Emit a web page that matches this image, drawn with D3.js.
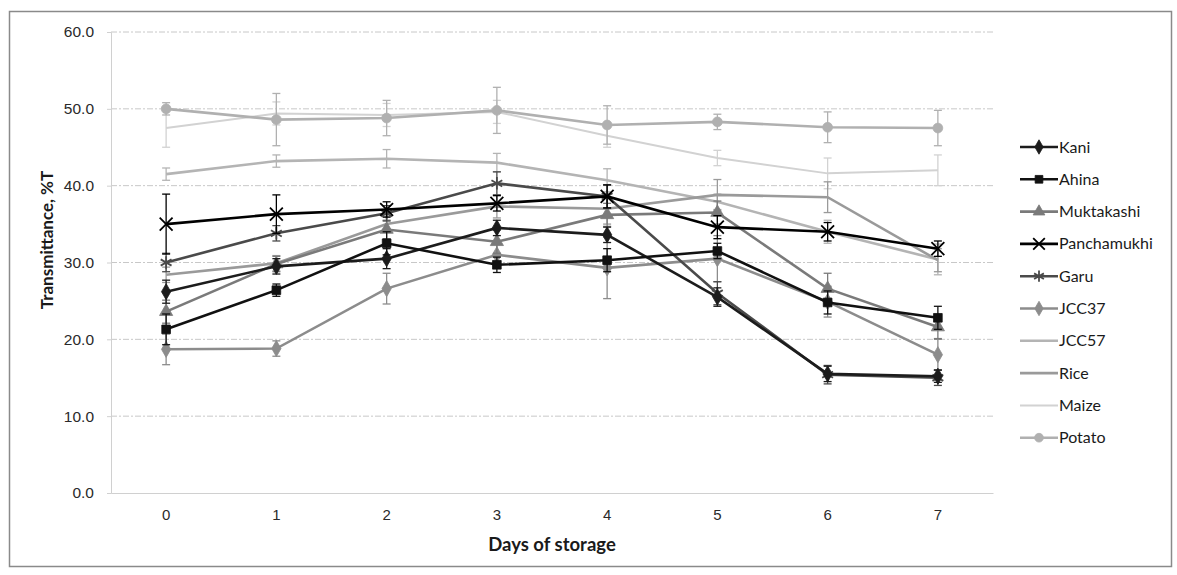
<!DOCTYPE html>
<html>
<head>
<meta charset="utf-8">
<script src="https://cdn.jsdelivr.net/npm/d3@7"></script>
<style>
  html, body { margin: 0; padding: 0; background: #fff; }
  svg { display: block; font-family: Lato, "Liberation Sans", sans-serif; }
</style>
</head>
<body>
<script>
// 日数（横軸のカテゴリ）
const days = ["0", "1", "2", "3", "4", "5", "6", "7"];
const yTicks = [0, 10, 20, 30, 40, 50, 60];

// 系列名
const seriesNames = ["Kani", "Ahina", "Muktakashi", "Panchamukhi", "Garu",
  "JCC37", "JCC57", "Rice", "Maize", "Potato"];

// 透過率 %T
const kani        = [26.2, 29.5, 30.5, 34.5, 33.6, 25.5, 15.5, 15.2];
const ahina       = [21.3, 26.4, 32.5, 29.7, 30.3, 31.5, 24.8, 22.8];
const muktakashi  = [23.6, 29.8, 34.3, 32.7, 36.2, 36.5, 26.6, 21.6];
const panchamukhi = [35.0, 36.3, 36.9, 37.7, 38.6, 34.6, 34.0, 31.8];
const garu        = [30.0, 33.8, 36.4, 40.3, 38.6, 26.0, 15.4, 15.0];
const jcc37       = [18.7, 18.8, 26.6, 31.0, 29.3, 30.5, 24.9, 18.0];
const jcc57       = [41.5, 43.2, 43.5, 43.0, 40.7, 37.9, 34.0, 30.4];
const rice        = [28.4, 29.9, 35.0, 37.3, 37.0, 38.8, 38.5, 30.3];
const maize       = [47.5, 49.4, 49.2, 49.6, 46.5, 43.6, 41.6, 42.0];
const potato      = [50.0, 48.6, 48.8, 49.8, 47.9, 48.3, 47.6, 47.5];

// 誤差（±）
const kaniErr        = [1.5, 1.0, 1.3, 1.0, 1.0, 1.2, 1.0, 0.8];
const ahinaErr       = [2.0, 0.8, 1.5, 1.0, 1.5, 1.0, 1.5, 1.5];
const muktakashiErr  = [1.5, 1.0, 1.2, 1.5, 1.5, 1.5, 2.0, 1.5];
const panchamukhiErr = [3.9, 2.5, 1.0, 1.0, 1.5, 1.5, 1.2, 1.0];
const garuErr        = [1.2, 1.0, 1.0, 1.5, 1.5, 1.5, 1.2, 1.0];
const jcc37Err       = [2.0, 1.0, 2.0, 1.5, 4.0, 3.0, 2.0, 2.0];
const jcc57Err       = [0.8, 0.8, 1.2, 1.2, 1.5, 1.0, 1.5, 2.0];
const riceErr        = [1.0, 1.0, 1.0, 1.5, 2.0, 2.0, 2.0, 1.5];
const maizeErr       = [2.5, 1.5, 1.5, 1.5, 1.5, 1.0, 2.0, 2.0];
const potatoErr      = [0.8, 3.4, 2.3, 3.0, 2.5, 1.0, 2.0, 2.3];

const values = [kani, ahina, muktakashi, panchamukhi, garu, jcc37, jcc57, rice, maize, potato];
const errors = [kaniErr, ahinaErr, muktakashiErr, panchamukhiErr, garuErr,
  jcc37Err, jcc57Err, riceErr, maizeErr, potatoErr];

// 見た目（色・マーカー）
const colors  = ["#1c1c1c", "#111111", "#7a7a7a", "#000000", "#4a4a4a",
  "#8c8c8c", "#b4b4b4", "#9a9a9a", "#d2d2d2", "#b0b0b0"];
const markers = ["diamond", "square", "triangle", "times", "asterisk",
  "diamond", "none", "none", "none", "circle"];

const width = 1177, height = 575;
const plot = { left: 111, right: 993, top: 32, bottom: 493 };

const svg = d3.select("body").append("svg")
  .attr("width", width)
  .attr("height", height);

// 外枠
svg.append("rect")
  .attr("x", 9.5).attr("y", 11.5)
  .attr("width", 1162).attr("height", 555)
  .attr("fill", "none").attr("stroke", "#8a8a8a").attr("stroke-width", 1.5);

const x = d3.scaleBand().domain(days).range([plot.left, plot.right]).padding(0);
const cx = d => x(d) + x.bandwidth() / 2;
const y = d3.scaleLinear().domain([0, 60]).range([plot.bottom, plot.top]);

// 横グリッド線
svg.append("g")
  .selectAll("line")
  .data(yTicks.filter(t => t > 0))
  .join("line")
  .attr("x1", plot.left).attr("x2", plot.right)
  .attr("y1", d => y(d)).attr("y2", d => y(d))
  .attr("stroke", "#c8c8c8").attr("stroke-width", 1)
  .attr("stroke-dasharray", "6,2,2,2");

// Y軸
const yAxis = svg.append("g")
  .attr("transform", `translate(${plot.left},0)`)
  .call(d3.axisLeft(y).tickValues(yTicks).tickFormat(d3.format(".1f")).tickSize(4).tickPadding(13));
yAxis.select(".domain").attr("stroke", "#d0d0d0");
yAxis.selectAll(".tick line").attr("stroke", "#d0d0d0");
yAxis.selectAll("text").attr("fill", "#2a2a2a").style("font-size", "15.5px");

// X軸
const xAxis = svg.append("g")
  .attr("transform", `translate(0,${plot.bottom})`)
  .call(d3.axisBottom(x).tickSize(0).tickPadding(16));
xAxis.select(".domain").attr("stroke", "#d0d0d0");
xAxis.selectAll("text").attr("fill", "#2a2a2a").style("font-size", "15px");

// 軸タイトル
svg.append("text")
  .attr("transform", "translate(53,240) rotate(-90)")
  .attr("text-anchor", "middle")
  .attr("font-weight", "bold").attr("font-size", 17).attr("fill", "#1a1a1a")
  .text("Transmittance, %T");

svg.append("text")
  .attr("x", 552).attr("y", 551)
  .attr("text-anchor", "middle")
  .attr("font-weight", "bold").attr("font-size", 18.5).attr("fill", "#1a1a1a")
  .text("Days of storage");

const symbolType = {
  diamond: d3.symbolDiamond, square: d3.symbolSquare, triangle: d3.symbolTriangle,
  circle: d3.symbolCircle, times: d3.symbolTimes, asterisk: d3.symbolAsterisk
};

function drawMarker(g, kind, color, size) {
  if (kind === "none") return;
  const stroked = kind === "times" || kind === "asterisk";
  g.append("path")
    .attr("d", d3.symbol().type(symbolType[kind]).size(size)())
    .attr("fill", stroked ? "none" : color)
    .attr("stroke", color)
    .attr("stroke-width", stroked ? 1.8 : 0.8);
}

const line = d3.line().x((d, i) => cx(days[i])).y(d => y(d));

// 薄い系列から描画（濃い系列を上に）
const drawOrder = [8, 6, 7, 9, 5, 2, 4, 0, 1, 3];

drawOrder.forEach(s => {
  const g = svg.append("g");
  const color = colors[s];

  // 誤差棒
  values[s].forEach((v, i) => {
    const e = errors[s][i];
    const px = cx(days[i]);
    g.append("line")
      .attr("x1", px).attr("x2", px)
      .attr("y1", y(v - e)).attr("y2", y(v + e))
      .attr("stroke", color).attr("stroke-width", 1.3);
    [v - e, v + e].forEach(t => {
      g.append("line")
        .attr("x1", px - 4).attr("x2", px + 4)
        .attr("y1", y(t)).attr("y2", y(t))
        .attr("stroke", color).attr("stroke-width", 1.3);
    });
  });

  g.append("path")
    .datum(values[s])
    .attr("d", line)
    .attr("fill", "none")
    .attr("stroke", color)
    .attr("stroke-width", s === 8 ? 2 : 2.6);

  values[s].forEach((v, i) => {
    const mg = g.append("g").attr("transform", `translate(${cx(days[i])},${y(v)})`);
    drawMarker(mg, markers[s], color, markers[s] === "times" || markers[s] === "asterisk" ? 110 : 75);
  });
});

// 凡例
const legend = svg.append("g");
seriesNames.forEach((name, s) => {
  const ly = 147 + s * 32.3;
  const item = legend.append("g").attr("transform", `translate(0,${ly})`);
  item.append("line")
    .attr("x1", 1020).attr("x2", 1058)
    .attr("y1", 0).attr("y2", 0)
    .attr("stroke", colors[s]).attr("stroke-width", s === 8 ? 2 : 2.6);
  const mg = item.append("g").attr("transform", "translate(1039,0)");
  drawMarker(mg, markers[s], colors[s], markers[s] === "times" || markers[s] === "asterisk" ? 90 : 60);
  item.append("text")
    .attr("x", 1059).attr("y", 5.5)
    .attr("font-size", 16).attr("fill", "#1a1a1a")
    .text(name);
});
</script>
</body>
</html>
